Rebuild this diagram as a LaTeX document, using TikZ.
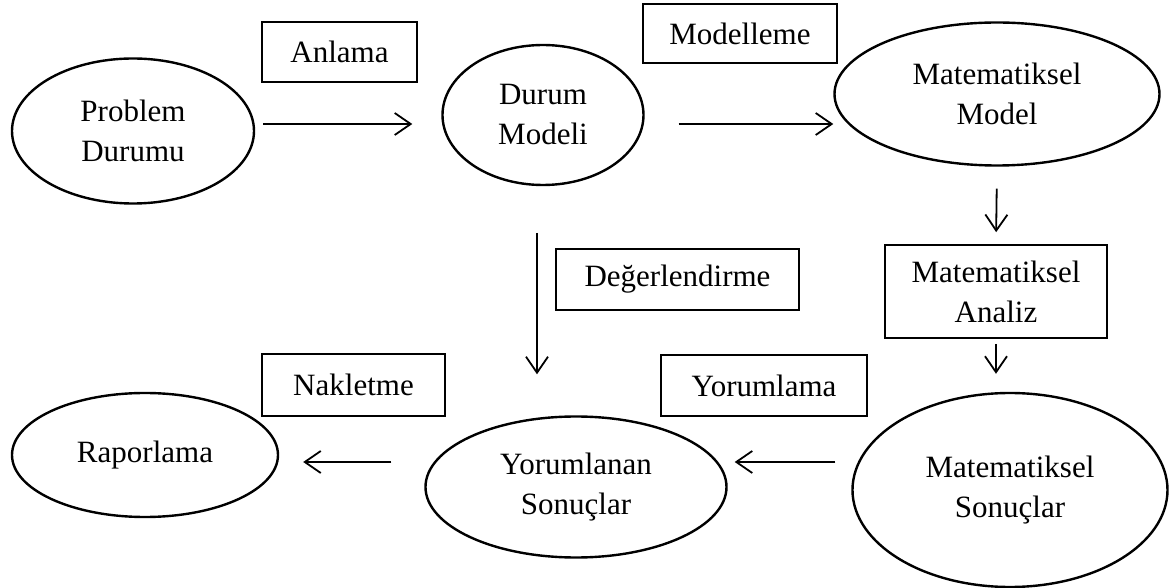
\documentclass[tikz,border=0pt]{standalone}
\usepackage{fontspec}
\setmainfont{Liberation Serif}
\usetikzlibrary{shapes.geometric,arrows.meta,calc,positioning}

\begin{document}
\begin{tikzpicture}[x=0.5pt, y=-0.5pt,
    oval/.style={ellipse, draw, line width=1.2pt, inner sep=0pt, align=center, font=\fontsize{15.5}{20}\selectfont},
    tag/.style={rectangle, draw, line width=0.8pt, inner sep=0pt, align=center, font=\fontsize{15.5}{20}\selectfont},
    arr/.style={-{Straight Barb[length=8pt, width=11pt]}, line width=0.9pt}]
  \useasboundingbox (0,0) rectangle (1169,588);
  % stages
  \node[oval, minimum width=121pt, minimum height=72.5pt] (prob) at (133,131) {Problem\\Durumu};
  \node[oval, minimum width=100.5pt, minimum height=70pt] (durum) at (543,115) {Durum\\Modeli};
  \node[oval, minimum width=162.5pt, minimum height=71.5pt] (mmodel) at (997,94) {Matematiksel\\Model};
  \node[tag, minimum width=111pt, minimum height=46.5pt] (analiz) at (996,291.5) {Matematiksel\\Analiz};
  \node[oval, minimum width=157.5pt, minimum height=97pt] (msonuc) at (1010,490) {Matematiksel\\Sonuçlar};
  \node[oval, minimum width=150.5pt, minimum height=70.5pt] (ysonuc) at (576,487) {Yorumlanan\\Sonuçlar};
  \node[oval, minimum width=133pt, minimum height=62pt] (rapor) at (145,455) {Raporlama};
  % process labels
  \node[tag, minimum width=77.5pt, minimum height=30pt] (anlama) at (339.5,52) {Anlama};
  \node[tag, minimum width=97pt, minimum height=29.5pt] (modelleme) at (740,33.5) {Modelleme};
  \node[tag, minimum width=121.5pt, minimum height=30.5pt] (degerl) at (677.5,279.5) {Değerlendirme};
  \node[tag, minimum width=103pt, minimum height=30.5pt] (yorum) at (764,385.5) {Yorumlama};
  \node[tag, minimum width=91.5pt, minimum height=31pt] (nakl) at (353.5,385) {Nakletme};
  % arrow rows
  \coordinate (row1) at (0,124);
  \coordinate (row2) at (0,462);
  \coordinate (dtop) at (537,233);
  \draw[arr, shorten <=4pt, shorten >=14.5pt] (prob.east |- row1) -- (durum.west |- row1);
  \draw[arr, shorten <=17pt] (durum.east |- row1) -- (mmodel.west |- row1);
  \draw[arr, shorten <=11pt, shorten >=6pt] (mmodel.south) -- (analiz.north);
  \draw[arr, shorten <=2.5pt, shorten >=9pt] (analiz.south) -- (analiz.south |- msonuc.north);
  \draw[arr, shorten <=8pt, shorten >=3.5pt] (msonuc.west |- row2) -- (ysonuc.east |- row2);
  \draw[arr, shorten >=20.5pt] (dtop) -- (dtop |- ysonuc.north);
  \draw[arr, shorten <=16.5pt, shorten >=12pt] (ysonuc.west |- row2) -- (rapor.east |- row2);
\end{tikzpicture}
\end{document}
